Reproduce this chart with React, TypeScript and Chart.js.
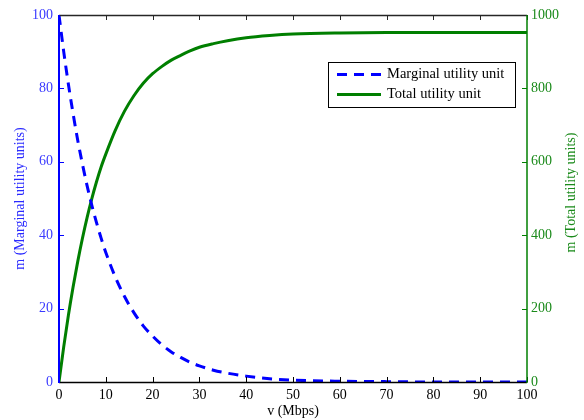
import React, { useEffect, useRef } from "react";
import { Chart, registerables } from "chart.js";

Chart.register(...registerables);

// bandwidth v (Mbps)
const V = [0, 1, 2, 3, 4, 5, 6, 7, 8, 9, 10, 12, 14, 16, 18, 20, 22, 24, 26, 28, 30, 33, 36, 40, 45, 50, 60, 70, 80, 90, 100];
// marginal utility (left axis)
const MARGINAL = [100, 90.1, 81.2, 73.2, 65.9, 59.4, 53.5, 48.2, 43.5, 39.2, 35.3, 28.7, 23.3, 18.9, 15.3, 12.5, 10.1, 8.2, 6.7, 5.4, 4.4, 3.2, 2.4, 1.6, 0.9, 0.5, 0.2, 0.1, 0, 0, 0];
// total utility (right axis)
const TOTAL = [0, 95, 181, 258, 328, 391, 448, 499, 545, 586, 621, 685, 738, 780, 814, 840, 860, 877, 890, 902, 912, 922, 930, 938, 944, 948, 951, 952, 952, 952, 952];

const X_TICKS = [0, 10, 20, 30, 40, 50, 60, 70, 80, 90, 100];
const M_TICKS = [0, 20, 40, 60, 80, 100];
const T_TICKS = [0, 200, 400, 600, 800, 1000];

const SERIES_NAMES = ["Marginal utility unit", "Total utility unit"];
const X_TITLE = "v (Mbps)";
const M_TITLE = "m (Marginal utility units)";
const T_TITLE = "m (Total utility units)";

const BLUE = "#0000ff";
const GREEN = "#007f00";
const FONT = "'Liberation Serif', 'Times New Roman', serif";

const overlay = {
  id: "overlay",
  afterDraw(chart: any) {
    const { ctx, chartArea, scales } = chart;
    const { left, right, top, bottom } = chartArea;
    const line = (x1: number, y1: number, x2: number, y2: number, c: string, w: number, dash: number[] = []) => {
      ctx.save();
      ctx.strokeStyle = c;
      ctx.lineWidth = w;
      ctx.setLineDash(dash);
      ctx.beginPath();
      ctx.moveTo(x1, y1);
      ctx.lineTo(x2, y2);
      ctx.stroke();
      ctx.restore();
    };
    const TL = 5;
    X_TICKS.forEach((v) => {
      const px = Math.round(scales.x.getPixelForValue(v)) + 0.5;
      line(px, bottom, px, bottom - TL, "#000", 1);
      line(px, top, px, top + TL, "#262626", 1);
    });
    M_TICKS.forEach((v) => {
      const py = Math.round(scales.y.getPixelForValue(v)) + 0.5;
      line(left, py, left + TL, py, BLUE, 1);
    });
    T_TICKS.forEach((v) => {
      const py = Math.round(scales.y1.getPixelForValue(v)) + 0.5;
      line(right, py, right - TL, py, GREEN, 1);
    });
    // axis lines
    line(left, top + 0.5, right, top + 0.5, "#262626", 1.5);
    line(left, bottom + 0.5, right, bottom + 0.5, "#000", 1.5);
    line(left, top, left, bottom + 1, BLUE, 2);
    line(right, top, right, bottom + 1, GREEN, 1.5);

    // titles
    ctx.save();
    ctx.font = `14px ${FONT}`;
    ctx.textAlign = "center";
    ctx.textBaseline = "middle";
    ctx.fillStyle = "#000";
    ctx.fillText(X_TITLE, (left + right) / 2, 411);
    ctx.save();
    ctx.translate(20, (top + bottom) / 2);
    ctx.rotate(-Math.PI / 2);
    ctx.fillStyle = "#2a2aff";
    ctx.fillText(M_TITLE, 0, 0);
    ctx.restore();
    ctx.save();
    ctx.translate(571, (top + bottom) / 2 - 6);
    ctx.rotate(-Math.PI / 2);
    ctx.fillStyle = "#1a8a1a";
    ctx.fillText(T_TITLE, 0, 0);
    ctx.restore();
    ctx.restore();

    // legend
    const bx = 328.5, by = 62.5, bw = 187, bh = 45;
    ctx.save();
    ctx.fillStyle = "#fff";
    ctx.fillRect(bx, by, bw, bh);
    ctx.strokeStyle = "#000";
    ctx.lineWidth = 1;
    ctx.strokeRect(bx, by, bw, bh);
    ctx.restore();
    line(337, 74.5, 381, 74.5, BLUE, 3, [10, 7]);
    line(337, 94.5, 381, 94.5, GREEN, 3);
    ctx.save();
    ctx.font = `14.5px ${FONT}`;
    ctx.fillStyle = "#000";
    ctx.textAlign = "left";
    ctx.textBaseline = "middle";
    ctx.fillText(SERIES_NAMES[0], 387, 74.5);
    ctx.fillText(SERIES_NAMES[1], 387, 94.5);
    ctx.restore();
  },
};

const plain = (v: any) => String(v);

export default function App() {
  const ref = useRef<HTMLCanvasElement>(null);
  useEffect(() => {
    if (!ref.current) return;
    const chart = new Chart(ref.current, {
      type: "line",
      data: {
        datasets: [
          {
            label: SERIES_NAMES[0],
            data: V.map((v, i) => ({ x: v, y: MARGINAL[i] })),
            borderColor: BLUE,
            borderWidth: 3,
            borderDash: [10, 7],
            pointRadius: 0,
            cubicInterpolationMode: "monotone",
            yAxisID: "y",
            fill: false,
          },
          {
            label: SERIES_NAMES[1],
            data: V.map((v, i) => ({ x: v, y: TOTAL[i] })),
            borderColor: GREEN,
            borderWidth: 3,
            pointRadius: 0,
            cubicInterpolationMode: "monotone",
            yAxisID: "y1",
            fill: false,
          },
        ],
      },
      options: {
        responsive: false,
        animation: false,
        layout: { padding: { top: 15, left: 0, right: 0, bottom: 0 } },
        plugins: { legend: { display: false }, tooltip: { enabled: false } },
        scales: {
          x: {
            type: "linear",
            min: 0,
            max: 100,
            afterBuildTicks: (s: any) => { s.ticks = X_TICKS.map((v) => ({ value: v })); },
            afterFit: (s: any) => { s.height = 38; },
            grid: { display: false, drawTicks: false },
            border: { display: false },
            ticks: { color: "#000", padding: 5, font: { family: FONT, size: 14 }, callback: plain },
          },
          y: {
            position: "left",
            min: 0,
            max: 100,
            afterBuildTicks: (s: any) => { s.ticks = M_TICKS.map((v) => ({ value: v })); },
            afterFit: (s: any) => { s.width = 59; },
            grid: { display: false, drawTicks: false },
            border: { display: false },
            ticks: { color: "#3a3aff", padding: 6, font: { family: FONT, size: 14 }, callback: plain },
          },
          y1: {
            position: "right",
            min: 0,
            max: 1000,
            afterBuildTicks: (s: any) => { s.ticks = T_TICKS.map((v) => ({ value: v })); },
            afterFit: (s: any) => { s.width = 57; },
            grid: { display: false, drawTicks: false },
            border: { display: false },
            ticks: { color: "#1a8a1a", padding: 4, font: { family: FONT, size: 14 }, callback: plain },
          },
        },
      },
      plugins: [overlay],
    } as any);
    return () => chart.destroy();
  }, []);
  return (
    <div style={{ position: "absolute", left: 0, top: 0, width: 584, height: 420, background: "#fff" }}>
      <canvas ref={ref} width={584} height={420} style={{ display: "block" }} />
    </div>
  );
}
